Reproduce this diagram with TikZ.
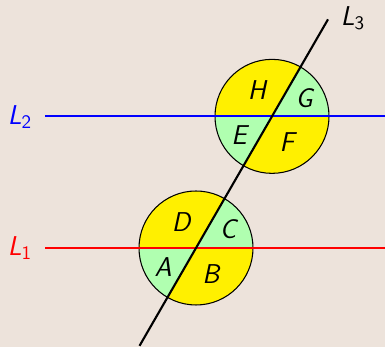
\documentclass[tikz,border=0pt]{standalone}
\usepackage{tikz}
\usetikzlibrary{calc}
\definecolor{pagebg}{HTML}{EDE3DB}
\definecolor{sectyellow}{HTML}{FFF000}
\definecolor{sectgreen}{HTML}{B0FFB0}
\definecolor{lineblue}{HTML}{0000FF}
\definecolor{linered}{HTML}{FF0000}

\begin{document}
\begin{tikzpicture}[x=0.02cm,y=0.02cm]
    \tikzstyle{lbl}=[font=\sffamily\fontsize{15.5}{18}\selectfont\itshape,inner sep=0pt]
    \tikzstyle{rim}=[draw=black,line width=0.6pt]
    \fill[pagebg] (0,0) rectangle (385,347);
    \useasboundingbox (0,0) rectangle (385,347);
    \coordinate (O1) at (196,99);
    \coordinate (O2) at ($(O1)+(60:152)$);
    % sectors of the two circles
    \foreach \c/\n in {O1/1,O2/2} {
        \fill[sectgreen] (\c) -- ++(0:57) arc (0:60:57) -- cycle;
        \fill[sectyellow] (\c) -- ++(60:57) arc (60:180:57) -- cycle;
        \fill[sectgreen] (\c) -- ++(180:57) arc (180:240:57) -- cycle;
        \fill[sectyellow] (\c) -- ++(240:57) arc (240:360:57) -- cycle;
        \draw[rim] (\c) circle (57);
    }
    % lines
    \node[lbl,text=linered] (l1) at (20,99) {L\textsubscript{\upshape 1}};
    \node[lbl,text=lineblue] (l2) at (20,230) {L\textsubscript{\upshape 2}};
    \coordinate (e1) at (385,99);
    \coordinate (e2) at (385,230.6);
    \coordinate (b3) at ($(O1)+(240:113)$);
    \coordinate (t3) at ($(O2)+(60:112)$);
    \node[lbl] (l3) at (353,329) {L\textsubscript{\upshape 3}};
    \draw[linered,line width=1.2pt] (45,99) -- (e1);
    \draw[lineblue,line width=1.2pt] (45,230.6) -- (e2);
    \draw[black,line width=1.2pt] (b3) -- (t3);
    % angle labels
    \node[lbl] (C) at ($(O1)+(30:37)$) {C};
    \node[lbl] (D) at ($(O1)+(120:30)$) {D};
    \node[lbl] (A) at ($(O1)+(210:38)$) {A};
    \node[lbl] (B) at ($(O1)+(300:30)$) {B};
    \node[lbl] (G) at ($(O2)+(30:37)$) {G};
    \node[lbl] (H) at ($(O2)+(120:30)$) {H};
    \node[lbl] (E) at ($(O2)+(210:38)$) {E};
    \node[lbl] (F) at ($(O2)+(300:30)$) {F};
\end{tikzpicture}
\end{document}
